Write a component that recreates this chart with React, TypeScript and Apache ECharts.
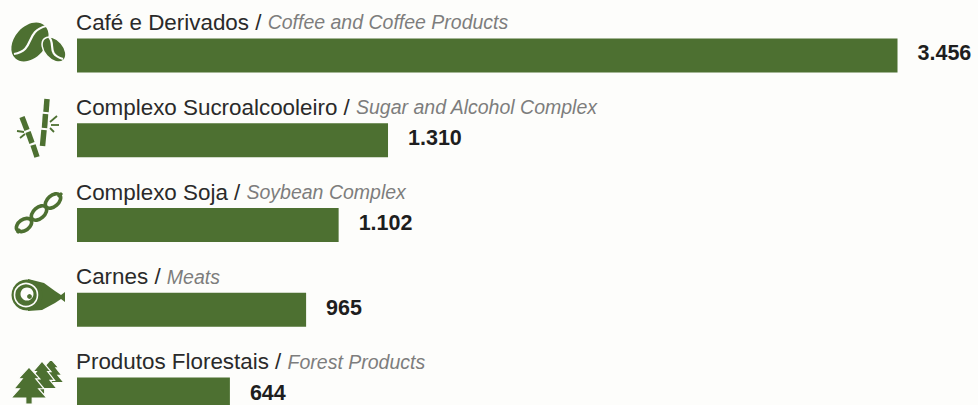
import React, { useEffect, useRef } from "react";
import * as echarts from "echarts";

const namesPt = ["Café e Derivados", "Complexo Sucroalcooleiro", "Complexo Soja", "Carnes", "Produtos Florestais"];
const namesEn = ["Coffee and Coffee Products", "Sugar and Alcohol Complex", "Soybean Complex", "Meats", "Forest Products"];
const exportValues = [3456, 1310, 1102, 965, 644];

const GREEN = "#4d7031";
const PAPER = "#fdfdfb";
const FONT = "'Liberation Sans', Arial, sans-serif";

const thousands = (v: number) => String(v).replace(/\B(?=(\d{3})+$)/g, ".");

const pine = (cx: number, top: number, w: number, h: number): number[][] => {
  const t = h * 0.84;
  return [
    [cx, top],
    [cx + w * 0.3, top + t * 0.38],
    [cx + w * 0.19, top + t * 0.38],
    [cx + w * 0.42, top + t * 0.7],
    [cx + w * 0.27, top + t * 0.7],
    [cx + w * 0.5, top + t],
    [cx + w * 0.09, top + t],
    [cx + w * 0.09, top + h],
    [cx - w * 0.09, top + h],
    [cx - w * 0.09, top + t],
    [cx - w * 0.5, top + t],
    [cx - w * 0.27, top + t * 0.7],
    [cx - w * 0.42, top + t * 0.7],
    [cx - w * 0.19, top + t * 0.38],
    [cx - w * 0.3, top + t * 0.38],
  ];
};

const fillStyle = { fill: GREEN };
const creaseStyle = { fill: "none", stroke: PAPER, lineWidth: 2.2 };

// Small pictograms beside each commodity row
const coffeeIcon = [
  { type: "ellipse", x: 30, y: 42, rotation: 0.85, shape: { cx: 0, cy: 0, rx: 22, ry: 15.5 }, style: fillStyle },
  { type: "ellipse", x: 54, y: 49.5, rotation: -0.85, shape: { cx: 0, cy: 0, rx: 14.5, ry: 9.5 }, style: { fill: GREEN, stroke: PAPER, lineWidth: 1.5 } },
  { type: "bezierCurve", shape: { x1: 14, y1: 54, x2: 46, y2: 26, cpx1: 36, cpy1: 50, cpx2: 24, cpy2: 32 }, style: creaseStyle },
  { type: "bezierCurve", shape: { x1: 49, y1: 37, x2: 63, y2: 59, cpx1: 56, cpy1: 44, cpx2: 46, cpy2: 54 }, style: creaseStyle },
];

const stalk = (x1: number, y1: number, x2: number, y2: number) => ({
  type: "line",
  shape: { x1, y1, x2, y2 },
  style: { stroke: GREEN, lineWidth: 5.5 },
});
const leaf = (x1: number, y1: number, x2: number, y2: number) => ({
  type: "line",
  shape: { x1, y1, x2, y2 },
  style: { stroke: GREEN, lineWidth: 1.8 },
});
const bambooIcon = [
  stalk(47, 99, 46, 112),
  stalk(45.5, 114, 44.5, 128),
  stalk(44, 130, 42.5, 146),
  stalk(22, 117, 27, 130),
  stalk(28, 132, 32, 143),
  stalk(33, 145, 37, 157),
  leaf(50, 122, 57, 116),
  leaf(51, 125, 59, 125),
  leaf(50, 128, 54, 132),
  leaf(24, 132, 17, 131),
  leaf(25, 134, 20, 138),
];

const podStyle = { fill: "none", stroke: GREEN, lineWidth: 3.6 };
const soyIcon = [
  { type: "line", shape: { x1: 17, y1: 233, x2: 20, y2: 229 }, style: { stroke: GREEN, lineWidth: 3 } },
  { type: "line", shape: { x1: 58, y1: 197, x2: 62, y2: 193 }, style: { stroke: GREEN, lineWidth: 3 } },
  { type: "ellipse", x: 24, y: 225, rotation: 0.62, shape: { cx: 0, cy: 0, rx: 8.5, ry: 5.5 }, style: podStyle },
  { type: "ellipse", x: 39, y: 213, rotation: 0.72, shape: { cx: 0, cy: 0, rx: 9, ry: 5.5 }, style: podStyle },
  { type: "ellipse", x: 53, y: 201, rotation: 0.72, shape: { cx: 0, cy: 0, rx: 9, ry: 5.5 }, style: podStyle },
];

const hamIcon = [
  { type: "polygon", shape: { points: [[28, 279], [44, 283], [55, 291], [61, 295], [65, 292], [65, 302], [61, 299], [55, 303], [42, 310], [28, 311]] }, style: fillStyle },
  { type: "circle", shape: { cx: 27, cy: 295, r: 15.5 }, style: fillStyle },
  { type: "circle", shape: { cx: 26, cy: 295, r: 11.5 }, style: { fill: GREEN, stroke: PAPER, lineWidth: 1.6 } },
  { type: "circle", shape: { cx: 27, cy: 294, r: 6.5 }, style: { fill: PAPER } },
  { type: "circle", shape: { cx: 29.5, cy: 296.5, r: 2.4 }, style: fillStyle },
];

const treeStyle = { fill: GREEN, stroke: PAPER, lineWidth: 1.2 };
const forestIcon = [
  { type: "polygon", shape: { points: pine(51, 359, 26, 28) }, style: treeStyle },
  { type: "polygon", shape: { points: pine(42, 361, 30, 33) }, style: treeStyle },
  { type: "polygon", shape: { points: pine(29, 367, 36, 37) }, style: treeStyle },
];

export default function App() {
  const host = useRef<HTMLDivElement>(null);

  useEffect(() => {
    document.body.style.margin = "0";
    document.body.style.background = PAPER;
    const chart = echarts.init(host.current!, null, { renderer: "svg" });
    chart.setOption({
      animation: false,
      backgroundColor: PAPER,
      grid: { left: 77, right: 0, top: 13, height: 424, outerBoundsMode: "none" },
      xAxis: { type: "value", min: 0, max: 3795, show: false },
      yAxis: {
        type: "category",
        inverse: true,
        data: namesPt,
        axisLine: { show: false },
        axisTick: { show: false },
        splitLine: { show: false },
        axisLabel: {
          inside: true,
          margin: -1,
          verticalAlign: "bottom",
          padding: [0, 0, 22, 0],
          formatter: (pt: string, i: number) => `{pt|${pt} / }{en|${namesEn[i]}}`,
          rich: {
            pt: { fontFamily: FONT, fontSize: 22.4, color: "#2a2a2a" },
            en: { fontFamily: FONT, fontSize: 19.5, fontStyle: "italic", color: "#7d7d7d" },
          },
        },
      },
      series: [
        {
          type: "bar",
          data: exportValues,
          barWidth: 34,
          itemStyle: { color: GREEN },
          label: {
            show: true,
            position: "right",
            distance: 20,
            offset: [0, -2],
            fontFamily: FONT,
            fontWeight: "bold",
            fontSize: 21.5,
            lineHeight: 18,
            color: "#1e1e1e",
            formatter: (p: any) => thousands(p.value),
          },
        },
      ],
      graphic: [...coffeeIcon, ...bambooIcon, ...soyIcon, ...hamIcon, ...forestIcon],
    });
    return () => chart.dispose();
  }, []);

  return <div ref={host} style={{ width: 978, height: 405 }} />;
}
